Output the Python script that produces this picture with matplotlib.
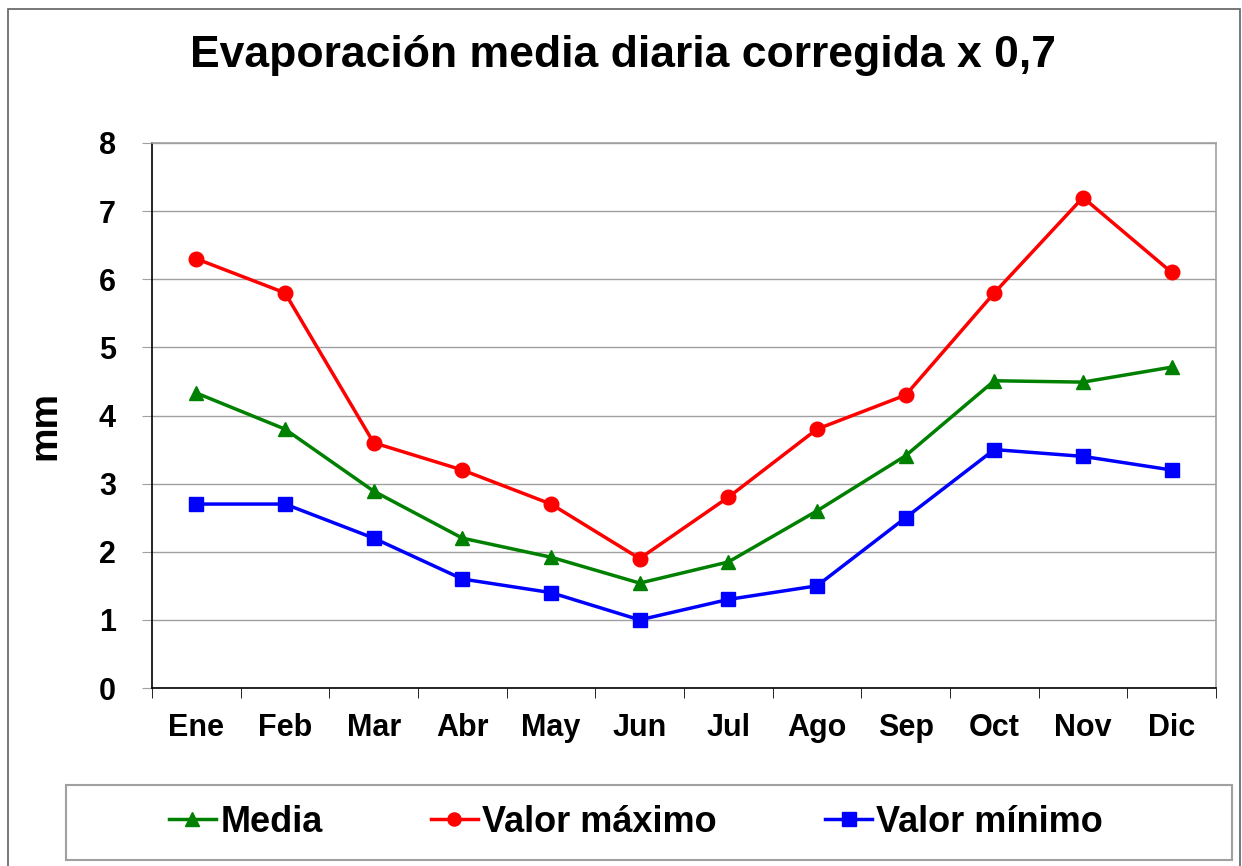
import matplotlib.pyplot as plt
from matplotlib.patches import Rectangle

plt.rcParams['font.family'] = ['Liberation Sans', 'DejaVu Sans']
plt.rcParams['font.weight'] = 'bold'

meses = ['Ene', 'Feb', 'Mar', 'Abr', 'May', 'Jun', 'Jul', 'Ago', 'Sep', 'Oct', 'Nov', 'Dic']
media = [4.33, 3.80, 2.89, 2.20, 1.92, 1.54, 1.85, 2.60, 3.41, 4.51, 4.49, 4.71]
maximo = [6.3, 5.8, 3.6, 3.2, 2.7, 1.9, 2.8, 3.8, 4.3, 5.8, 7.2, 6.1]
minimo = [2.7, 2.7, 2.2, 1.6, 1.4, 1.0, 1.3, 1.5, 2.5, 3.5, 3.4, 3.2]

W, H = 1242, 866
fig = plt.figure(figsize=(W / 100, H / 100), dpi=100)
ax = fig.add_axes([152 / W, 1 - 688 / H, (1216 - 152) / W, (688 - 143) / H])

x = list(range(len(meses)))
lw, ms = 2.5, 10.5
l1, = ax.plot(x, media, color='#008000', lw=lw, marker='^', ms=ms, label='Media')
l2, = ax.plot(x, maximo, color='#ff0000', lw=lw, marker='o', ms=ms, label='Valor máximo')
l3, = ax.plot(x, minimo, color='#0000ff', lw=lw, marker='s', ms=ms, label='Valor mínimo')

ax.set_xlim(-0.5, len(meses) - 0.5)
ax.set_ylim(0, 8)
ax.set_yticks(range(0, 9))
ax.yaxis.grid(True, color='#a0a0a0', lw=1)
ax.set_axisbelow(True)

# month labels centred, tick marks between categories
ax.set_xticks(x)
ax.set_xticklabels(meses, fontsize=22, fontweight='bold')
ax.tick_params(axis='x', which='major', length=0, pad=18)
ax.set_xticks([i - 0.5 for i in range(len(meses) + 1)], minor=True)
ax.tick_params(axis='x', which='minor', length=7, color='black', direction='out')
ax.tick_params(axis='y', length=7, color='#a0a0a0', pad=19, labelsize=22)
for lab in ax.get_yticklabels():
    lab.set_fontweight('bold')

ax.spines['left'].set_color('black')
ax.spines['bottom'].set_color('black')
ax.spines['top'].set_color('#a0a0a0')
ax.spines['right'].set_color('#a0a0a0')
for s in ax.spines.values():
    s.set_linewidth(1.2)

fig.text(623 / W, 1 - 67 / H, 'Evaporación media diaria corregida x 0,7',
         fontsize=32, fontweight='bold', ha='center', va='baseline')
fig.text(45 / W, 1 - 425 / H, 'mm', fontsize=28, fontweight='bold',
         rotation=90, ha='center', va='center')

# outer frame and legend box
fig.patches.append(Rectangle((8 / W, -0.01), (1240 - 8) / W, 1 - 9 / H + 0.01,
                             transform=fig.transFigure, fill=False,
                             edgecolor='#606060', lw=1.2))
fig.patches.append(Rectangle((66 / W, 1 - 860 / H), (1232 - 66) / W, 75 / H,
                             transform=fig.transFigure, fill=False,
                             edgecolor='#a0a0a0', lw=1.5))
fig.legend(handles=[l1, l2, l3], loc='center', bbox_to_anchor=(636 / W, 1 - 822 / H),
           ncol=3, frameon=False, prop={'size': 26, 'weight': 'bold'},
           handlelength=1.3, handletextpad=0.12, columnspacing=3.0, markerscale=0.9)

fig.savefig('out.png', dpi=100)
